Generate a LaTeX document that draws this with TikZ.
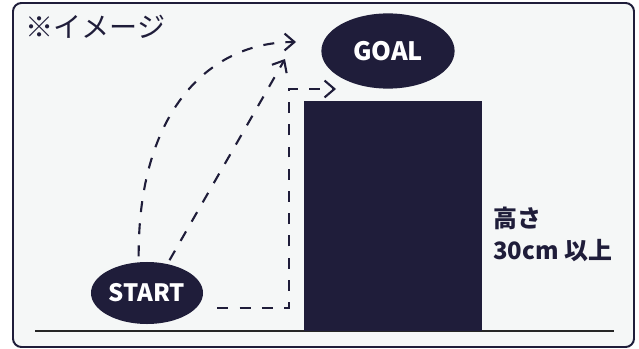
\documentclass[tikz,border=0pt]{standalone}
\usepackage{fontspec}
\setmainfont{Noto Sans CJK JP}
\usetikzlibrary{arrows.meta,shapes.geometric}
\definecolor{navy}{HTML}{1F1D3A}
\definecolor{paper}{HTML}{F5F7F7}

\tikzset{
  oval/.style={ellipse, fill=navy, text=white, inner sep=0pt,
    font=\bfseries\fontsize{17}{20}\selectfont},
  route/.style={navy, line width=1.5pt, dash pattern=on 7.8pt off 8pt,
    -{Straight Barb[length=7pt,width=12pt,line width=1.5pt]}},
}

\begin{document}
\begin{tikzpicture}[x=0.025cm, y=-0.025cm]
  \useasboundingbox (0,0) rectangle (639,349);

  %--- Frame and ground ---
  \draw[navy, line width=1.4pt, fill=paper, rounded corners=6pt] (13,3) rectangle (634,347);
  \draw[black!85, line width=1.5pt] (35,331) -- (614,331);

  %--- Block, 30 cm high ---
  \fill[navy] (304,101) rectangle (482,331);
  \node[navy, anchor=west, align=left, inner sep=0pt,
        font=\bfseries\fontsize{17}{22.7}\selectfont] (height) at (493,234) {高さ\\30cm 以上};

  %--- Note ---
  \node[navy, anchor=west, inner sep=0pt, font=\fontsize{20}{23}\selectfont] (note) at (25,27) {※イメージ};

  %--- Start and goal ---
  \node[oval, minimum width=2.8cm, minimum height=1.55cm] (start) at (147,293) {START};
  \node[oval, minimum width=3.33cm, minimum height=1.88cm,
        font=\bfseries\fontsize{18}{21}\selectfont] (goal) at (388,51) {GOAL};

  % arrow ends
  \coordinate (jump) at (296,42);
  \coordinate (lean) at (285,59);
  \coordinate (edge) at (289,89);
  \coordinate (top) at (336,89);

  %--- Routes ---
  \draw[route, shorten <=4pt] (start.105) .. controls (138,110) and (210,42) .. (jump);
  \draw[route, shorten <=3pt] (start.55) -- (lean);
  \draw[route, shorten <=15pt] (start.-17) -| (edge) -- (top);

\end{tikzpicture}
\end{document}
